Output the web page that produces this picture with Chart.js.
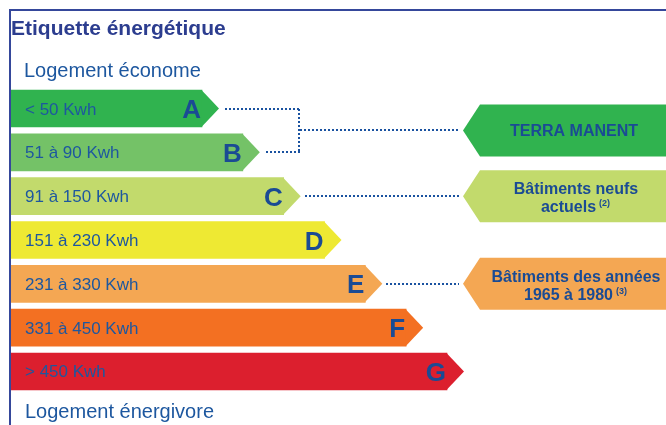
<!DOCTYPE html>
<html>
<head>
<meta charset="utf-8">
<script src="https://cdn.jsdelivr.net/npm/chart.js@4.4.0/dist/chart.umd.min.js"></script>
<style>
  html, body { margin: 0; padding: 0; background: #ffffff; }
  #wrap { width: 666px; height: 425px; position: relative; }
</style>
</head>
<body>
<div id="wrap"><canvas id="c" width="666" height="425"></canvas></div>
<script>
// ---- data ----
const classes = ['A', 'B', 'C', 'D', 'E', 'F', 'G'];
const classRank = [1, 2, 3, 4, 5, 6, 7];
const rangeLabels = ['< 50 Kwh', '51 à 90 Kwh', '91 à 150 Kwh', '151 à 230 Kwh', '231 à 330 Kwh', '331 à 450 Kwh', '> 450 Kwh'];
const classColors = ['#30b34f', '#74c267', '#c2da6c', '#eee933', '#f4a753', '#f37022', '#dc1f2e'];
const refLines = [['TERRA MANENT'], ['Bâtiments neufs', 'actuels'], ['Bâtiments des années', '1965 à 1980']];
const refNotes = ['', '(2)', '(3)'];
const refClasses = [['A', 'B'], ['C'], ['E']];
const titleText = 'Etiquette énergétique';
const topText = 'Logement économe';
const bottomText = 'Logement énergivore';

const FONT = '"Liberation Sans", Arial, Helvetica, sans-serif';
const BLUE_DARK = '#2c3d8f';
const BLUE_TEXT = '#1d579f';
const BLUE_LETTER = '#1a4b94';

const labelPlugin = {
  id: 'energyLabel',
  afterDatasetsDraw(chart) {
    const ctx = chart.ctx;
    const meta = chart.getDatasetMeta(0);
    const W = chart.width, H = chart.height;
    ctx.save();
    // frame
    ctx.strokeStyle = '#35479b';
    ctx.lineWidth = 2;
    ctx.beginPath();
    ctx.moveTo(W, 10); ctx.lineTo(10, 10); ctx.lineTo(10, H);
    ctx.stroke();

    // titles
    ctx.fillStyle = BLUE_DARK;
    ctx.font = 'bold 21px ' + FONT;
    ctx.textAlign = 'left';
    ctx.textBaseline = 'alphabetic';
    ctx.fillText(titleText, 11, 35);
    ctx.fillStyle = BLUE_TEXT;
    ctx.font = '20px ' + FONT;
    ctx.fillText(topText, 24, 76.5);
    ctx.fillText(bottomText, 25, 418);

    // arrow tips + texts
    const tipW = 17;
    const centers = {};
    const tips = {};
    meta.data.forEach((el, i) => {
      const h = el.height;
      ctx.fillStyle = classColors[i];
      ctx.beginPath();
      ctx.moveTo(el.x - 0.5, el.y - h / 2);
      ctx.lineTo(el.x + tipW, el.y);
      ctx.lineTo(el.x - 0.5, el.y + h / 2);
      ctx.closePath();
      ctx.fill();
      centers[classes[i]] = el.y;
      tips[classes[i]] = el.x + tipW;

      ctx.fillStyle = BLUE_TEXT;
      ctx.font = '17px ' + FONT;
      ctx.textAlign = 'left';
      ctx.fillText(rangeLabels[i], el.base + 14, el.y + 6);

      ctx.fillStyle = BLUE_LETTER;
      ctx.font = 'bold 26px ' + FONT;
      ctx.textAlign = 'right';
      ctx.fillText(classes[i], el.x - 1, el.y + 9.5);
    });

    // reference flags
    const flagTip = 463, flagLeft = 480, flagH = 52;
    ctx.setLineDash([2, 2]);
    refClasses.forEach((grp, k) => {
      const ys = grp.map(c => centers[c]);
      const fy = ys.reduce((a, b) => a + b, 0) / ys.length;
      const color = classColors[classes.indexOf(grp[0])];
      // flag
      ctx.fillStyle = color;
      ctx.beginPath();
      ctx.moveTo(flagTip, fy);
      ctx.lineTo(flagLeft, fy - flagH / 2);
      ctx.lineTo(W, fy - flagH / 2);
      ctx.lineTo(W, fy + flagH / 2);
      ctx.lineTo(flagLeft, fy + flagH / 2);
      ctx.closePath();
      ctx.fill();
      // connector
      ctx.strokeStyle = '#1a52a0';
      ctx.lineWidth = 2;
      ctx.beginPath();
      if (grp.length === 1) {
        ctx.moveTo(Math.round(tips[grp[0]] + 4), Math.round(fy));
        ctx.lineTo(flagTip - 4, Math.round(fy));
      } else {
        const jx = Math.round(Math.max(...grp.map(c => tips[c])) + 40);
        grp.forEach(c => {
          ctx.moveTo(Math.round(tips[c] + 6), Math.round(centers[c]));
          ctx.lineTo(jx, Math.round(centers[c]));
        });
        ctx.moveTo(jx - 1, Math.round(Math.min(...ys)));
        ctx.lineTo(jx - 1, Math.round(Math.max(...ys)));
        ctx.moveTo(jx, Math.round(fy));
        ctx.lineTo(flagTip - 5, Math.round(fy));
      }
      ctx.stroke();
      // text
      const cx = 576;
      ctx.fillStyle = BLUE_LETTER;
      ctx.font = 'bold 16px ' + FONT;
      ctx.textAlign = 'center';
      const lines = refLines[k];
      if (lines.length === 1) {
        ctx.fillText(lines[0], cx - 2, fy + 6);
      } else {
        ctx.fillText(lines[0], cx, fy - 2);
        const note = refNotes[k];
        ctx.font = 'bold 16px ' + FONT;
        const w1 = ctx.measureText(lines[1]).width;
        ctx.font = 'bold 9px ' + FONT;
        const w2 = ctx.measureText(note).width;
        const total = w1 + 4 + w2;
        const sx = cx - total / 2;
        ctx.textAlign = 'left';
        ctx.font = 'bold 16px ' + FONT;
        ctx.fillText(lines[1], sx, fy + 16);
        ctx.font = 'bold 9px ' + FONT;
        ctx.fillText(note, sx + w1 + 3, fy + 10);
      }
    });
    ctx.restore();
  }
};

new Chart(document.getElementById('c'), {
  type: 'bar',
  data: {
    labels: classes,
    datasets: [{
      data: classRank,
      backgroundColor: classColors,
      base: -3.678,
      barThickness: 37,
      borderWidth: 0,
      borderSkipped: false
    }]
  },
  options: {
    indexAxis: 'y',
    responsive: false,
    animation: false,
    devicePixelRatio: 1,
    layout: { padding: { left: 11, right: 0, top: 86.6, bottom: 31.6 } },
    scales: {
      x: { display: false, min: -3.678, max: 12.364 },
      y: { display: false }
    },
    plugins: { legend: { display: false }, tooltip: { enabled: false }, title: { display: false } }
  },
  plugins: [labelPlugin]
});
</script>
</body>
</html>
